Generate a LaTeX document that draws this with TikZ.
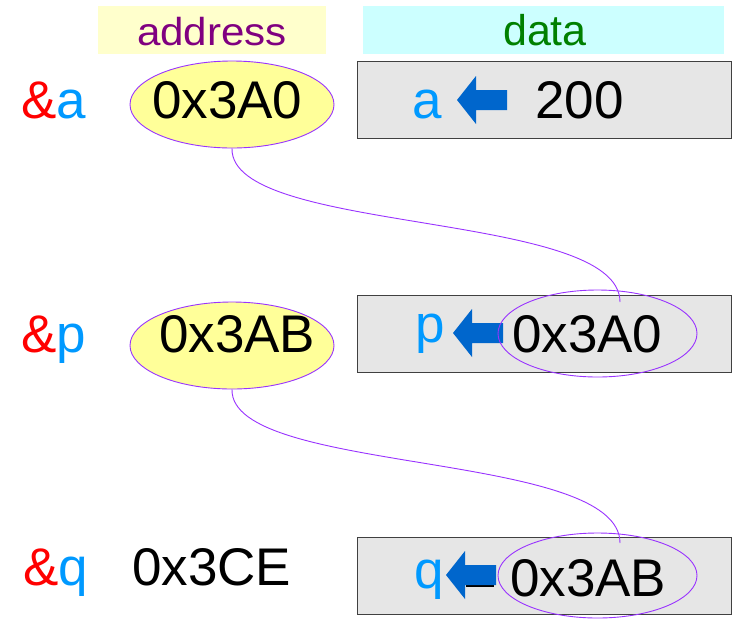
\documentclass[tikz,border=0pt]{standalone}
\usepackage{fontspec}
\setmainfont{Liberation Sans}
\usetikzlibrary{shapes.geometric}
\definecolor{hdryellow}{HTML}{FFFFCC}
\definecolor{hdrcyan}{HTML}{CCFFFF}
\definecolor{addrpurple}{HTML}{800080}
\definecolor{datagreen}{HTML}{008000}
\definecolor{ellfill}{HTML}{FFFF99}
\definecolor{ellline}{HTML}{9933FF}
\definecolor{boxfill}{HTML}{E6E6E6}
\definecolor{boxline}{HTML}{404040}
\definecolor{refred}{HTML}{FF0000}
\definecolor{varblue}{HTML}{0099FF}
\definecolor{arrowblue}{HTML}{0066CC}
\begin{document}
\begin{tikzpicture}[x=1pt,y=-1pt,
  big/.style={font=\fontsize{53}{60}\selectfont, inner sep=0pt, anchor=base west},
  hdrbox/.style={minimum height=48pt, anchor=north west, inner sep=0pt},
  membox/.style={draw=boxline, fill=boxfill, line width=1.2pt, minimum width=374pt, minimum height=77pt, anchor=north west, inner sep=0pt},
  addrell/.style={ellipse, draw=ellline, fill=ellfill, line width=0.9pt, inner sep=0pt, minimum width=204pt, minimum height=87pt},
  ringell/.style={ellipse, draw=ellline, line width=0.9pt, inner sep=0pt, minimum width=199pt, minimum height=87pt},
  link/.style={draw=ellline, line width=0.9pt},
  larrow/.pic={\fill[arrowblue] (0,0) -- (19,-24) -- (19,-10) -- (50,-10) -- (50,10) -- (19,10) -- (19,24) -- cycle;}
]
\useasboundingbox (0,0) rectangle (736,619);

% headers
\node[hdrbox, fill=hdryellow, minimum width=228pt] (addrhdr) at (98,6) {};
\node[hdrbox, fill=hdrcyan, minimum width=361pt] (datahdr) at (363,6) {};
\node[inner sep=0pt, anchor=base, font=\fontsize{39}{46}\selectfont, text=addrpurple, xscale=1.08] (addrtxt) at (212,45) {address};
\node[inner sep=0pt, anchor=base, font=\fontsize{43}{50}\selectfont, text=datagreen] (datatxt) at (545,45) {data};

% memory boxes
\node[membox] (box1) at (357,61) {};
\node[membox] (box2) at (357,295) {};
\node[membox] (box3) at (357,537) {};

% address ellipses
\node[addrell] (ell1) at (232,104.5) {};
\node[addrell] (ell2) at (232,345.5) {};

% reference labels
\node[big] (ra) at (21,118) {\textcolor{refred}{\&}\textcolor{varblue}{a}};
\node[big] (rp) at (21,352) {\textcolor{refred}{\&}\textcolor{varblue}{p}};
\node[big] (rq) at (23,585) {\textcolor{refred}{\&}\textcolor{varblue}{q}};

% addresses
\node[big] (adra) at (152,118) {0x3A0};
\node[big] (adrp) at (159,352) {0x3AB};
\node[big] (adrq) at (132,585) {0x3CE};

% data contents
\node[big, text=varblue] (va) at (412,118) {a};
\node[big] (vala) at (535,118) {200};
\node[big, text=varblue] (vp) at (415,342) {p};
\node[big] (valp) at (512,352) {0x3A0};
\node[big, text=varblue] (vq) at (414,588) {q};
\node[big] (valq) at (510,596) {0x3AB};

% arrows
\pic at (457,100) {larrow};
\pic at (453,333) {larrow};
\draw[black, line width=2.5pt] (466,586) -- (494,586);
\pic at (446,575) {larrow};

% pointer rings
\node[ringell] (ring2) at (597.5,333.5) {};
\node[ringell, minimum height=85pt] (ring3) at (597.5,575.5) {};

% connectors
\coordinate (end1) at (620,302);
\coordinate (end2) at (620,543);
\draw[link] (ell1.south) .. controls (230,235) and (620,210) .. (end1);
\draw[link] (ell2.south) .. controls (230,475) and (620,450) .. (end2);
\end{tikzpicture}
\end{document}
